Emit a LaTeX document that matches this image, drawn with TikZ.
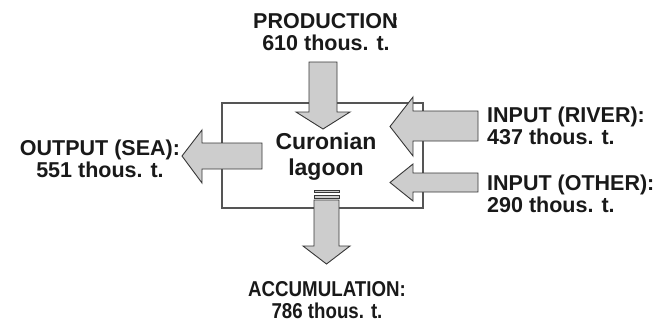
\documentclass[tikz,border=0pt]{standalone}
\usepackage{fontspec}
\setmainfont{Liberation Sans}
\newfontfamily\narrowsans[FakeStretch=0.87]{Liberation Sans}
\definecolor{arrowgray}{RGB}{205,205,205}
\definecolor{edgegray}{RGB}{55,55,55}
\definecolor{boxgray}{RGB}{85,85,85}
\definecolor{inkblack}{RGB}{25,25,25}
\tikzset{
  flow/.style={fill=arrowgray, draw=edgegray, line width=0.9pt, line join=miter},
  flowlabel/.style={font=\fontsize{21.5}{22}\selectfont\bfseries, inner sep=0pt, text=inkblack},
  lagoonbox/.style={draw=boxgray, line width=1.2pt, inner sep=0pt},
}
\begin{document}
\begin{tikzpicture}[x=1pt,y=-1pt]
  \useasboundingbox (0,0) rectangle (671,324);

  % the lagoon
  \node[lagoonbox, minimum width=201pt, minimum height=105pt] (lagoon) at (322.5,155.5) {};
  \node[flowlabel, font=\fontsize{23}{26}\selectfont\bfseries, align=center] (lagoontext) at (326,157) {Curonian\\lagoon};

  % production (down into the box)
  \draw[flow] (309,62) -- (337,62) -- (337,112) -- (350,112) -- (323,129) -- (296,112) -- (309,112) -- cycle;
  % output to the sea (left)
  \draw[flow] (262,143) -- (262,169) -- (202,169) -- (202,183) -- (182,156) -- (202,130) -- (202,143) -- cycle;
  % river input (left)
  \draw[flow] (478,111) -- (478,141) -- (413,141) -- (413,156) -- (390,126.5) -- (413,97) -- (413,111) -- cycle;
  % other input (left)
  \draw[flow] (478,173) -- (478,192) -- (413,192) -- (413,201) -- (390,182.5) -- (413,164) -- (413,173) -- cycle;
  % accumulation (down out of the box)
  \draw[flow] (314,190) rectangle (339,192.5);
  \draw[flow] (314,195.5) rectangle (339,198.5);
  \draw[flow] (314,200) -- (339,200) -- (339,246) -- (350,246) -- (326.5,264) -- (303,246) -- (314,246) -- cycle;

  % labels
  \node[flowlabel, align=center] (prod) at (326,31.7) {PRODUCTION\kern-.28em:\\610 thous. t.};
  \node[flowlabel, align=center] (outsea) at (100,158.7) {OUTPUT (SEA):\\551 thous. t.};
  \node[flowlabel, align=left, anchor=west] (inriver) at (487,126) {INPUT (RIVER):\\437 thous. t.};
  \node[flowlabel, align=left, anchor=west] (inother) at (487,193.5) {INPUT (OTHER):\\290 thous. t.};
  \node[flowlabel, font=\fontsize{21.5}{22}\selectfont\narrowsans\bfseries, align=center] (accum) at (327,300.5) {ACCUMULATION:\\786 thous. t.};
\end{tikzpicture}
\end{document}
